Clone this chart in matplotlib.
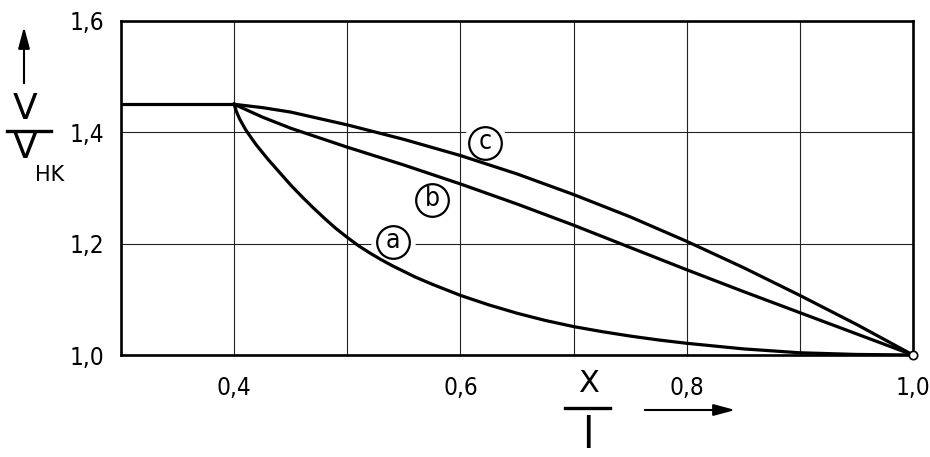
import matplotlib
matplotlib.use("Agg")
import matplotlib.pyplot as plt
from matplotlib.lines import Line2D

plt.rcParams['font.family'] = ['DejaVu Sans']
plt.rcParams['font.stretch'] = 'condensed'

# ---- data ----
flat_x = [0.30, 0.40]
flat_y = [1.45, 1.45]

a_x = [0.400, 0.402, 0.405, 0.410, 0.415, 0.420, 0.430, 0.440, 0.450, 0.460, 0.470, 0.480,
       0.490, 0.500, 0.510, 0.520, 0.530, 0.540, 0.550, 0.560, 0.575, 0.600, 0.625, 0.650,
       0.675, 0.700, 0.725, 0.750, 0.775, 0.800, 0.850, 0.900, 0.950, 1.000]
a_y = [1.450, 1.437, 1.423, 1.405, 1.390, 1.376, 1.351, 1.328, 1.305, 1.284, 1.264, 1.245,
       1.227, 1.211, 1.196, 1.183, 1.171, 1.160, 1.150, 1.140, 1.127, 1.107, 1.090, 1.075,
       1.062, 1.051, 1.042, 1.034, 1.027, 1.021, 1.011, 1.004, 1.001, 1.000]

b_x = [0.40, 0.425, 0.45, 0.50, 0.55, 0.60, 0.65, 0.70, 0.75, 0.80, 0.85, 0.90, 0.95, 1.00]
b_y = [1.45, 1.427, 1.407, 1.373, 1.341, 1.307, 1.271, 1.233, 1.193, 1.153, 1.114, 1.076, 1.038, 1.000]

c_x = [0.40, 0.425, 0.45, 0.50, 0.55, 0.60, 0.65, 0.70, 0.75, 0.80, 0.85, 0.90, 0.95, 1.00]
c_y = [1.45, 1.444, 1.436, 1.413, 1.387, 1.358, 1.325, 1.288, 1.248, 1.204, 1.157, 1.107, 1.055, 1.000]

curve_names = ['a', 'b', 'c']
label_pos = {'a': (0.540, 1.202), 'b': (0.575, 1.278), 'c': (0.622, 1.380)}

x_ticks = [0.3, 0.4, 0.5, 0.6, 0.7, 0.8, 0.9, 1.0]
x_ticklabels = ['', '0,4', '', '0,6', '', '0,8', '', '1,0']
y_ticks = [1.0, 1.2, 1.4, 1.6]
y_ticklabels = ['1,0', '1,2', '1,4', '1,6']

# ---- figure ----
W, H = 930, 457
fig = plt.figure(figsize=(W / 100, H / 100), dpi=100)
ax = fig.add_axes([121 / W, 1 - 355 / H, (913 - 121) / W, (355 - 20.7) / H])

def fx(px):
    return px / W

def fy(py):
    return 1 - py / H

ax.set_xlim(0.3, 1.0)
ax.set_ylim(1.0, 1.6)
ax.set_xticks(x_ticks)
ax.set_xticklabels(x_ticklabels, fontsize=17.5)
ax.set_yticks(y_ticks)
ax.set_yticklabels(y_ticklabels, fontsize=17.5)
ax.tick_params(axis='both', length=0)
ax.tick_params(axis='x', pad=15)
ax.tick_params(axis='y', pad=12)
ax.grid(True, color='#222222', linewidth=0.8, zorder=1)
ax.set_axisbelow(True)
for s in ax.spines.values():
    s.set_linewidth(1.9)
    s.set_color('black')
    s.set_zorder(5)

lw = 2.3
ax.plot(flat_x, flat_y, color='black', lw=lw, solid_capstyle='butt', zorder=3)
for xs, ys in [(a_x, a_y), (b_x, b_y), (c_x, c_y)]:
    ax.plot(xs, ys, color='black', lw=lw, solid_joinstyle='round', zorder=3)

# curve labels: circled letters
for name in curve_names:
    lx, ly = label_pos[name]
    ax.plot([lx], [ly], 'o', ms=32, mfc='white', mec='none', zorder=2.5)
    ax.plot([lx], [ly], 'o', ms=23.5, mfc='white', mec='black', mew=1.6, zorder=4)
    ax.text(lx, ly + 0.002, name, ha='center', va='center', fontsize=19, zorder=6)

# end point marker
ax.plot([1.0], [1.0], 'o', ms=6, mfc='white', mec='black', mew=1.2,
        clip_on=False, zorder=7)

# y-axis label: arrow and V / V_HK
ax.annotate('', xy=(fx(24), fy(24)), xytext=(fx(24), fy(86)),
            xycoords='figure fraction', textcoords='figure fraction',
            arrowprops=dict(arrowstyle='-|>,head_length=1.3,head_width=0.35',
                            color='black', lw=1.5))
fig.text(fx(25), fy(109), 'V', ha='center', va='center', fontsize=26, fontstretch='normal')
fig.add_artist(Line2D([fx(7), fx(51)], [fy(131), fy(131)], color='black', lw=2.4))
fig.text(fx(25), fy(148), 'V', ha='center', va='center', fontsize=26, fontstretch='normal')
fig.text(fx(50), fy(175), 'HK', ha='center', va='center', fontsize=15, fontstretch='normal')

# x-axis label: X / l and arrow
fig.text(fx(589), fy(383), 'X', ha='center', va='center', fontsize=22, fontstretch='normal')
fig.add_artist(Line2D([fx(565), fx(610)], [fy(408), fy(408)], color='black', lw=2.4))
fig.text(fx(588), fy(436), 'l', ha='center', va='center', fontsize=30, fontstretch='normal')
ax.annotate('', xy=(fx(738), fy(410)), xytext=(fx(642), fy(410)),
            xycoords='figure fraction', textcoords='figure fraction',
            arrowprops=dict(arrowstyle='-|>,head_length=1.3,head_width=0.35',
                            color='black', lw=1.5))

fig.savefig('out.png', dpi=100, facecolor='white')
